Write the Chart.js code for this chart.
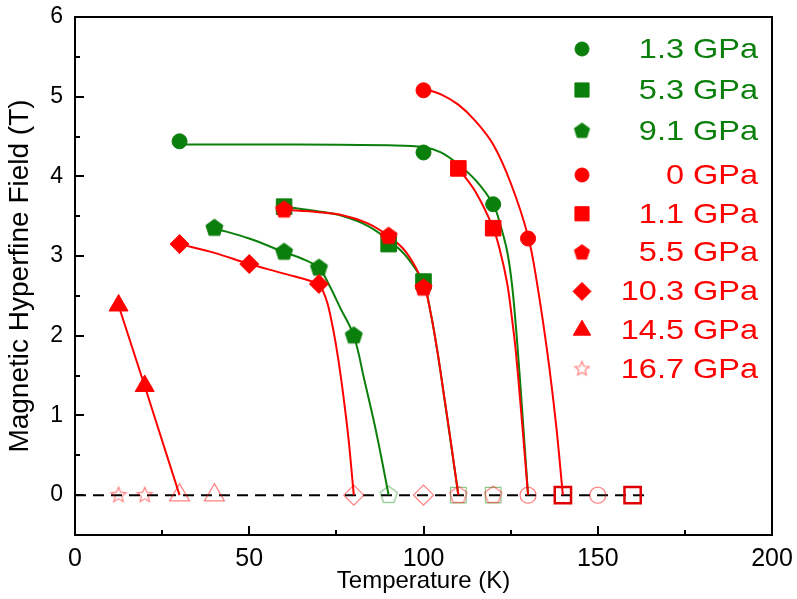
<!DOCTYPE html>
<html>
<head>
<meta charset="utf-8">
<script src="https://cdn.jsdelivr.net/npm/chart.js@4.4.1/dist/chart.umd.min.js"></script>
<style>
html, body { margin: 0; padding: 0; background: #fff; }
</style>
</head>
<body>
<canvas id="myChart" width="797" height="599"></canvas>
<script>
// legend labels (pressure) and axis ticks
const pressures = ['1.3', '5.3', '9.1', '0', '1.1', '5.5', '10.3', '14.5', '16.7'];
const xTicks = [0, 50, 100, 150, 200];
const yTicks = [0, 1, 2, 3, 4, 5, 6];

// measured hyperfine field (T) vs temperature (K)
const t13 = [30, 100, 120],        b13 = [4.44, 4.30, 3.65];
const t53 = [60, 90, 100],         b53 = [3.62, 3.15, 2.68];
const t91 = [40, 60, 70, 80],      b91 = [3.35, 3.05, 2.85, 2.0];
const t0 = [100, 130],             b0 = [5.08, 3.22];
const t11 = [110, 120],            b11 = [4.10, 3.35];
const t55 = [60, 90, 100],         b55 = [3.58, 3.25, 2.60];
const t103 = [30, 50, 70],         b103 = [3.15, 2.90, 2.65];
const t145 = [12.5, 20],           b145 = [2.38, 1.37];

// temperatures where no hyperfine field was seen (open symbols on B = 0)
const z167 = [12.5, 20];
const z145 = [30, 40];
const z103 = [80, 100];
const z91 = [90];
const z53 = [110, 120];
const z55 = [110, 120];
const z0 = [130, 150];
const z11 = [140, 160];

// guide-to-eye curves
const f13T = [30, 60, 90, 100, 105, 110, 115, 120, 122, 124, 125.5, 127, 128.5, 130];
const f13B = [4.40, 4.40, 4.39, 4.37, 4.30, 4.15, 3.95, 3.65, 3.40, 3.06, 2.60, 1.85, 0.95, 0];
const f0T = [100, 105, 110, 115, 120, 125, 130, 132.5, 135.5, 138, 140];
const f0B = [5.10, 5.03, 4.90, 4.69, 4.40, 3.92, 3.25, 2.68, 1.80, 0.90, 0];
const f11T = [110, 115, 120, 122, 124, 125.3, 126.5, 128.3, 130];
const f11B = [4.10, 3.80, 3.35, 3.06, 2.66, 2.25, 1.80, 0.90, 0];
const f53T = [60, 70, 77, 84, 90, 95, 100, 102, 104, 106, 108, 110];
const f53B = [3.62, 3.56, 3.50, 3.38, 3.20, 3.00, 2.66, 2.30, 1.80, 1.21, 0.61, 0];
const f55T = [60, 70, 77, 84, 90, 95, 100, 102, 104, 106, 108, 110];
const f55B = [3.58, 3.55, 3.51, 3.41, 3.25, 3.05, 2.65, 2.30, 1.80, 1.22, 0.62, 0];
const f91T = [40, 50, 60, 65, 70, 73, 76, 80, 83, 86, 88, 90];
const f91B = [3.35, 3.22, 3.05, 2.97, 2.85, 2.63, 2.36, 2.0, 1.45, 0.88, 0.45, 0];
const f103T = [30, 40, 50, 60, 70, 71, 72.5, 74, 75.5, 77, 78.5, 80];
const f103B = [3.15, 3.04, 2.90, 2.78, 2.65, 2.58, 2.40, 2.10, 1.72, 1.25, 0.70, 0];
const f145T = [12.5, 20, 30];
const f145B = [2.38, 1.37, 0];

// dashed zero line
const baseT = [0, 164];
const baseB = [0, 0];

const GREEN = '#0b7f0b';
const RED = '#ff0000';
const PINK = 'rgba(255,0,0,0.5)';
const PALEGREEN = 'rgba(0,128,0,0.45)';

function pts(xs, ys) {
    return xs.map((x, i) => ({ x: x, y: ys[i] }));
}

// pentagon / five point star as canvas point styles
function shape(kind, r, fill, stroke, lw) {
    const s = Math.ceil(2 * r + lw + 2);
    const c = document.createElement('canvas');
    c.width = s; c.height = s;
    const g = c.getContext('2d');
    const n = kind === 'star' ? 10 : 5;
    g.beginPath();
    for (let i = 0; i < n; i++) {
        const rr = (kind === 'star' && i % 2) ? r * 0.45 : r;
        const a = -Math.PI / 2 + i * 2 * Math.PI / n;
        const px = s / 2 + rr * Math.cos(a), py = s / 2 + rr * Math.sin(a);
        if (i) g.lineTo(px, py); else g.moveTo(px, py);
    }
    g.closePath();
    if (fill) { g.fillStyle = fill; g.fill(); }
    if (stroke) { g.strokeStyle = stroke; g.lineWidth = lw; g.stroke(); }
    return c;
}

const pentGreen = shape('pent', 9, GREEN, GREEN, 1);
const pentRed = shape('pent', 9, RED, RED, 1);
const pentGreenOpen = shape('pent', 9, null, PALEGREEN, 1.2);
const pentRedOpen = shape('pent', 9, null, PINK, 1.2);
const starOpen = shape('star', 8, null, PINK, 1.2);
const pentGreenLeg = shape('pent', 8, GREEN, GREEN, 1);
const pentRedLeg = shape('pent', 8, RED, RED, 1);
const starLeg = shape('star', 7.5, null, PINK, 1.2);

function marks(xs, ys, style, color, r, order) {
    return {
        data: pts(xs, ys), showLine: false, pointStyle: style, pointRadius: r,
        pointBackgroundColor: color, pointBorderColor: color, pointBorderWidth: 1, order: order
    };
}
function openMarks(xs, style, color, r, lw, order) {
    return {
        data: pts(xs, xs.map(() => 0)), showLine: false, pointStyle: style, pointRadius: r,
        pointBackgroundColor: 'rgba(0,0,0,0)', pointBorderColor: color, pointBorderWidth: lw, order: order
    };
}
function fit(xs, ys, color, order, straight) {
    return {
        data: pts(xs, ys), showLine: true, borderColor: color, borderWidth: 2, pointRadius: 0,
        tension: straight ? 0 : 0.35, order: order
    };
}

const datasets = [
    // filled symbols
    marks(t0, b0, 'circle', RED, 7.5, 0),
    marks(t11, b11, 'rect', RED, 11, 0),
    marks(t55, b55, pentRed, RED, 9, 0),
    marks(t103, b103, 'rectRot', RED, 9.5, 0),
    marks(t145, b145, 'triangle', RED, 11, 0),
    marks(t13, b13, 'circle', GREEN, 7.5, 1),
    marks(t53, b53, 'rect', GREEN, 11, 1),
    marks(t91, b91, pentGreen, GREEN, 9, 1),
    // curves
    fit(f0T, f0B, RED, 2),
    fit(f11T, f11B, RED, 2),
    fit(f55T, f55B, RED, 2),
    fit(f103T, f103B, RED, 2),
    fit(f145T, f145B, RED, 2, true),
    fit(f13T, f13B, GREEN, 3),
    fit(f53T, f53B, GREEN, 3),
    fit(f91T, f91B, GREEN, 3),
    // open symbols at zero field
    openMarks(z167, starOpen, PINK, 8, 1.2, 4),
    openMarks(z145, 'triangle', PINK, 11.5, 1.2, 4),
    openMarks(z103, 'rectRot', PINK, 10, 1.2, 4),
    openMarks(z55, pentRedOpen, PINK, 9, 1.2, 4),
    openMarks(z0, 'circle', PINK, 8, 1.2, 4),
    openMarks(z11, 'rect', '#e00000', 11.5, 2.5, 4),
    openMarks(z91, pentGreenOpen, PALEGREEN, 9, 1.2, 5),
    openMarks(z53, 'rect', PALEGREEN, 11, 1.2, 5),
    // zero line
    {
        data: pts(baseT, baseB), showLine: true, borderColor: '#000', borderWidth: 2,
        borderDash: [11, 7], pointRadius: 0, order: 6
    }
];

// legend symbols, same order as pressures
const legendStyles = [
    ['circle', GREEN, 7], ['rect', GREEN, 10], [pentGreenLeg, GREEN, 8],
    ['circle', RED, 7], ['rect', RED, 10], [pentRedLeg, RED, 8],
    ['rectRot', RED, 9], ['triangle', RED, 10], [starLeg, PINK, 7]
];

const framePlugin = {
    id: 'frame',
    afterDraw(chart) {
        const ctx = chart.ctx;
        const a = chart.chartArea;
        const xs = chart.scales.x, ys = chart.scales.y;
        ctx.save();
        ctx.strokeStyle = '#000';
        ctx.lineWidth = 2;
        ctx.strokeRect(a.left, a.top, a.right - a.left, a.bottom - a.top);
        ctx.beginPath();
        xTicks.forEach((v, i) => {
            const px = Math.round(xs.getPixelForValue(v));
            ctx.moveTo(px, a.bottom); ctx.lineTo(px, a.bottom - 9);
            if (i < xTicks.length - 1) {
                const m = Math.round(xs.getPixelForValue((v + xTicks[i + 1]) / 2));
                ctx.moveTo(m, a.bottom); ctx.lineTo(m, a.bottom - 5);
            }
        });
        yTicks.forEach((v, i) => {
            const py = Math.round(ys.getPixelForValue(v));
            ctx.moveTo(a.left, py); ctx.lineTo(a.left + 9, py);
            if (i < yTicks.length - 1) {
                const m = Math.round(ys.getPixelForValue((v + yTicks[i + 1]) / 2));
                ctx.moveTo(a.left, m); ctx.lineTo(a.left + 5, m);
            }
        });
        ctx.stroke();

        // legend
        const mx = a.right - 190;
        const numX = a.right - 88;
        const unitX = a.right - 79;
        ctx.font = '28px Arial, "Liberation Sans", sans-serif';
        ctx.textBaseline = 'middle';
        pressures.forEach((p, i) => {
            const y = i < 3 ? a.top + 32 + i * 41 : a.top + 158 + (i - 3) * 38.8;
            const [st, col, r] = legendStyles[i];
            ctx.fillStyle = col; ctx.strokeStyle = col; ctx.lineWidth = 1;
            Chart.helpers.drawPoint(ctx, { pointStyle: st, radius: r, rotation: 0, borderWidth: 1 }, mx, y);
            ctx.fillStyle = i < 3 ? GREEN : RED;
            ctx.save();
            ctx.translate(numX, y + 1); ctx.scale(1.16, 1);
            ctx.textAlign = 'right';
            ctx.fillText(p, 0, 0);
            ctx.restore();
            ctx.save();
            ctx.translate(unitX, y + 1); ctx.scale(1.16, 1);
            ctx.textAlign = 'left';
            ctx.fillText('GPa', 0, 0);
            ctx.restore();
        });
        ctx.restore();
    }
};

const config = {
    type: 'scatter',
    data: { datasets: datasets },
    options: {
        responsive: false,
        animation: false,
        events: [],
        layout: { padding: { left: 0, top: 17, right: 25, bottom: 0 } },
        plugins: { legend: { display: false }, tooltip: { enabled: false } },
        scales: {
            x: {
                type: 'linear', min: 0, max: 200,
                grid: { display: false, drawTicks: false },
                border: { display: false },
                afterBuildTicks: s => { s.ticks = xTicks.map(v => ({ value: v })); },
                afterFit: s => { s.height = 64; s.paddingLeft = 0; s.paddingRight = 0; },
                ticks: { color: '#000', padding: 9, maxRotation: 0, font: { family: 'Arial, "Liberation Sans"', size: 25 } },
                title: {
                    display: true, text: 'Temperature (K)', color: '#000',
                    padding: { top: 3, bottom: 3 },
                    font: { family: 'Arial, "Liberation Sans"', size: 24, weight: 'normal' }
                }
            },
            y: {
                type: 'linear', min: -0.5, max: 6,
                grid: { display: false, drawTicks: false },
                border: { display: false },
                afterBuildTicks: s => { s.ticks = yTicks.map(v => ({ value: v })); },
                afterFit: s => { s.width = 75; s.paddingTop = 0; s.paddingBottom = 0; },
                ticks: { color: '#000', padding: 12, font: { family: 'Arial, "Liberation Sans"', size: 23 } },
                title: {
                    display: true, text: 'Magnetic Hyperfine Field (T)', color: '#000',
                    padding: { top: 3, bottom: 0 },
                    font: { family: 'Arial, "Liberation Sans"', size: 28, weight: 'normal' }
                }
            }
        }
    },
    plugins: [framePlugin]
};

new Chart(document.getElementById('myChart').getContext('2d'), config);
</script>
</body>
</html>
